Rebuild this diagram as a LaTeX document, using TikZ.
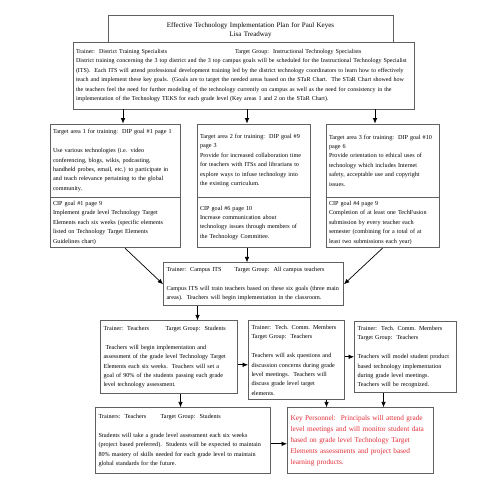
\documentclass[tikz,border=0pt]{standalone}
\usepackage{fontspec}
\setmainfont{Liberation Serif}
\usepackage{tikz}
\usetikzlibrary{arrows,arrows.meta,positioning}
\definecolor{boxgray}{RGB}{96,96,96}
\definecolor{keyred}{RGB}{228,45,55}
\tikzstyle{block} = [rectangle, draw=boxgray, line width=0.8pt, fill=white,
    align=left, inner sep=3pt, font=\fontsize{6.15}{9.4}\selectfont]
\tikzstyle{line} = [draw, -{Latex[length=5.5pt,width=4.5pt]}, line width=0.7pt]

\begin{document}
\begin{tikzpicture}[node distance=60pt]
    \useasboundingbox (0,0) rectangle (495pt,-495pt);
    % Place nodes
    \node [block, align=center, text width=279pt, minimum height=30pt, font=\fontsize{7}{9}\selectfont] (title) at (250.5pt,-30pt) {Effective Technology Implementation Plan for Paul Keyes\\ Lisa Treadway};
    \node [block, text width=335pt, minimum height=67pt, font=\fontsize{6}{9.4}\selectfont, below of=title, xshift=-7pt, yshift=14.5pt] (main) {
    \makebox[159pt][l]{Trainer:\ \ District Training Specialists}Target Group:\ \ Instructional Technology Specialists\\
    District training concerning the 3 top district and the 3 top campus goals will be scheduled for the Instructional Technology Specialist\\
    (ITS).\ \ Each ITS will attend professional development training led by the district technology coordinators to learn how to effectively\\
    teach and implement these key goals.\ \ (Goals are to target the needed areas based on the STaR Chart.\ \ The STaR Chart showed how\\
    the teachers feel the need for further modeling of the technology currently on campus as well as the need for consistency in the\\
    implementation of the Technology TEKS for each grade level (Key areas 1 and 2 on the STaR Chart).};
    \node [block, text width=124pt, minimum height=73pt, below of=main, xshift=-128.5pt, yshift=-25pt] (area1) {
    Target area 1 for training:\ \ DIP goal \#1 page 1\\[9.4pt]
    Use various technologies (i.e. video\\ conferencing, blogs, wikis, podcasting,\\ handheld probes, email, etc.) to participate in\\ and teach relevance pertaining to the global\\ community.};
    \node [block, text width=124pt, minimum height=50pt, below=0pt of area1] (cip1) {
    CIP goal \#1 page 9\\ Implement grade level Technology Target\\ Elements each six weeks (specific elements\\ listed on Technology Target Elements\\ Guidelines chart)};
    \node [block, text width=107pt, minimum height=73pt, right of=area1, xshift=78.5pt] (area2) {
    Target area 2 for training:\ \ DIP goal \#9\\ page 3\\ Provide for increased collaboration time\\ for teachers with ITSs and librarians to\\ explore ways to infuse technology into\\ the existing curriculum.\\[9.4pt]};
    \node [block, text width=107pt, minimum height=50pt, below=0pt of area2] (cip6) {
    CIP goal \#6 page 10\\ Increase communication about\\ technology issues through members of\\ the Technology Committee.\\[9.4pt]};
    \node [block, text width=107pt, minimum height=73pt, right of=area2, xshift=69pt] (area3) {
    Target area 3 for training:\ \ DIP goal \#10\\ page 6\\ Provide orientation to ethical uses of\\ technology which includes Internet\\ safety, acceptable use and copyright\\ issues.\\[9.4pt]};
    \node [block, text width=107pt, minimum height=50pt, below=0pt of area3] (cip4) {
    CIP goal \#4 page 9\\ Completion of at least one TechFusion\\ submission by every teacher each\\ semester (combining for a total of at\\ least two submissions each year)};
    \node [block, text width=174pt, minimum height=43pt, below of=cip6, yshift=-1.5pt] (campus) {
    \makebox[68pt][l]{Trainer:\ \ Campus ITS}Target Group:\ \ All campus teachers\\[9.4pt]
    Campus ITS will train teachers based on these six goals (three main\\ areas).\ \ Teachers will begin implementation in the classroom.};
    \node [block, text width=131pt, minimum height=73pt, below of=campus, xshift=-84.5pt, yshift=-13pt] (teach) {
    \makebox[62pt][l]{Trainer:\ \ Teachers}Target Group:\ \ Students\\[9.4pt]
    \ Teachers will begin implementation and\\ assessment of the grade level Technology Target\\ Elements each six weeks.\ \ Teachers will set a\\ goal of 90\% of the students passing each grade\\ level technology assessment.};
    \node [block, text width=90pt, minimum height=79pt, right of=teach, xshift=67.5pt, yshift=-3pt] (comm1) {
    Trainer:\ \ Tech. Comm. Members\\ Target Group:\ \ Teachers\\[9.4pt]
    Teachers will ask questions and\\ discussion concerns during grade\\ level meetings.\ \ Teachers will\\ discuss grade level target\\ elements.};
    \node [block, text width=96pt, minimum height=71pt, right of=comm1, xshift=49pt, yshift=3pt] (comm2) {
    Trainer:\ \ Tech. Comm. Members\\ Target Group:\ \ Teachers\\[9.4pt]
    Teachers will model student product\\ based technology implementation\\ during grade level meetings.\\ Teachers will be recognized.};
    \node [block, text width=169pt, minimum height=66pt, below of=teach, xshift=14pt, yshift=-23.5pt] (students) {
    \makebox[62pt][l]{Trainers:\ \ Teachers}Target Group:\ \ Students\\[9.4pt]
    Students will take a grade level assessment each six weeks\\ (project based preferred).\ \ Students will be expected to maintain\\ 80\% mastery of skills needed for each grade level to maintain\\ global standards for the future.};
    \node [block, text width=140pt, minimum height=66pt, text=keyred, font=\fontsize{7.3}{11}\selectfont, right of=students, xshift=117.5pt] (key) {
    Key Personnel:\ \ Principals will attend grade\\ level meetings and will monitor student data\\ based on grade level Technology Target\\ Elements assessments and project based\\ learning products.};
    % Draw edges
    \path [line] ([xshift=8pt]area1.north |- main.south) -- ([xshift=8pt]area1.north);
    \path [line] ([xshift=-6.5pt]area2.north |- main.south) -- ([xshift=-6.5pt]area2.north);
    \path [line] ([xshift=-7.5pt]area3.north |- main.south) -- ([xshift=-7.5pt]area3.north);
    \path [line] ([xshift=10pt]cip1.south) -- (campus.west);
    \path [line] ([xshift=-6.5pt]cip6.south) -- ([xshift=-6.5pt]cip6.south |- campus.north);
    \path [line] (cip4.south) -- (campus.east);
    \path [line] ([xshift=28.5pt]teach.north |- campus.south) -- ([xshift=28.5pt]teach.north);
    \path [line] ([yshift=-7.5pt]teach.east) -- ([yshift=-7.5pt]teach.east -| comm1.west);
    \path [line] ([yshift=3.5pt]comm1.east) -- ([yshift=3.5pt]comm1.east -| comm2.west);
    \path [line] ([xshift=11.5pt]teach.south) -- ([xshift=11.5pt]teach.south |- students.north);
    \path [line] ([xshift=30pt]comm1.south) -- ([xshift=30pt]comm1.south |- key.north);
    \path [line] ([xshift=-22pt]comm2.south) -- ([xshift=-22pt]comm2.south |- key.north);
    \path [line] ([yshift=-3pt]students.east) -- ([yshift=-3pt]students.east -| key.west);
\end{tikzpicture}
\end{document}
